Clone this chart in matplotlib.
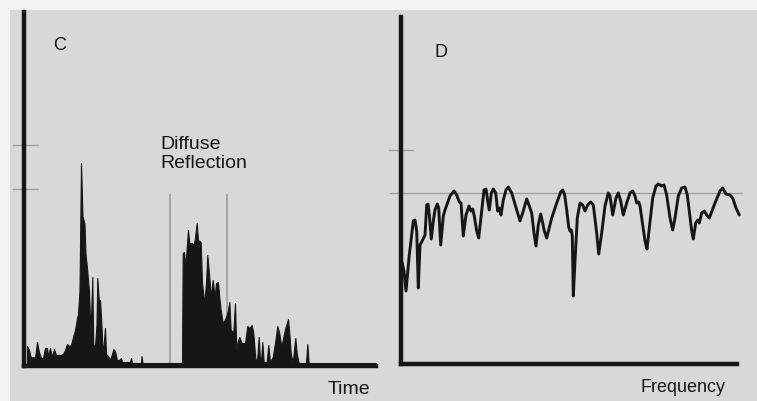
import matplotlib
matplotlib.use("Agg")
import matplotlib.pyplot as plt
from matplotlib.patches import Rectangle

plt.rcParams['font.family'] = ['Liberation Sans', 'DejaVu Sans']

W, H = 757, 401

# panel C: reflected energy vs time
time_c = [3, 5, 7, 9, 11, 13, 15, 17, 19, 21, 23, 24, 26, 28, 30, 32, 34, 37, 39,
          41, 43, 45, 47, 49, 51, 53, 54, 55.5, 57, 58.5, 60.5, 61.5, 63, 65, 66.5,
          67.5, 68.3, 69.2, 71, 72.5, 73.3, 75, 76, 77.5, 78.5, 79.5, 81, 82, 84, 86,
          88, 89.3, 91, 93, 95, 97, 98, 106, 107, 108, 117, 117.5, 118.5,
          158, 158.7, 160, 161.3, 164, 165.3, 167.7, 169.3, 170.7, 172.7, 174, 176.7,
          178, 180.3, 182, 183.3, 185.3, 186.7, 188.7, 190.7, 192, 194, 195.3, 196.7,
          198.7, 200.7, 202.7, 204, 205.3, 206.7, 209.3, 211, 212.3, 214, 215.3, 217.7,
          221, 223.3, 225.3, 227.7, 229.3, 231.7, 233.3, 234.7, 236, 237.3, 238.3,
          239.7, 242.7, 244.3, 246, 248.7, 251, 253.3, 255.3, 257.3, 259.3, 261.3,
          264, 265.3, 266.7, 268.7, 270, 271.3, 272.7, 274.7, 282, 283.3, 284.7, 352]
level_c = [20, 16, 8, 9, 8, 24, 14, 8, 8, 18, 18, 10, 18, 9, 17, 11, 11, 11, 12,
           16, 22, 20, 21, 29, 36, 48, 52, 76, 203, 150, 142, 112, 98, 75, 34,
           62, 89, 22, 20, 42, 88, 62, 66, 40, 15, 20, 38, 12, 10, 6, 12, 17, 15, 6,
           6, 8, 4, 4, 8, 3, 3, 10, 3,
           3, 113, 114, 99, 136, 123, 123, 121, 126, 143, 126, 124, 83, 63, 83, 111,
           89, 69, 86, 69, 83, 84, 69, 56, 43, 46, 51, 56, 64, 36, 34, 63, 16, 26,
           29, 23, 23, 40, 38, 41, 33, 3, 9, 29, 6, 9, 24, 4, 4, 21, 4, 9, 23, 40,
           33, 19, 29, 38, 47, 33, 13, 3, 16, 28, 13, 3, 3, 22, 3, 3]

# panel D: spectrum vs frequency
freq_d = [1, 3, 5, 8.3, 12.3, 14, 15.7, 17.3, 19, 21.7, 24, 25.7, 27, 28.3, 30.3,
          32.3, 34, 36.3, 37.7, 39.7, 42.3, 44, 49, 53, 55.7, 58.3, 60, 62.3, 65,
          68, 70, 71.7, 73.3, 75.7, 77.7, 80.7, 83, 85, 86.7, 88.3, 90.3, 92.3,
          94.7, 96.7, 98.3, 100, 102.3, 105, 107.3, 110.7, 115.7, 119, 122.3, 125.7,
          128.3, 130.7, 133, 135, 137.3, 139.7, 141.7, 143.3, 145.7, 150.7, 155.7,
          159.7, 161.7, 163.7, 165.7, 167.7, 169, 170.3, 171.3, 172.3, 174, 176.3,
          179, 181.7, 184, 186.7, 189.7, 192.3, 195.7, 197.7, 200.7, 204, 207.3,
          209, 211.7, 215, 217.3, 219.7, 222.3, 225.7, 229, 231.7, 234, 235.7,
          237.7, 239, 241.7, 244, 246, 248.3, 251.7, 255, 257.3, 260.7, 263, 265.7,
          269, 271.7, 274, 277.3, 280.7, 284, 286.3, 288.3, 290.7, 292.3, 294.7,
          296.7, 298.3, 300.7, 303.3, 305.7, 308.3, 314, 319, 321.7, 325, 329,
          331.7, 335, 338.3]
level_d = [102, 93, 73, 109, 143, 144, 133, 76, 119, 124, 129, 159, 160, 149, 125,
           143, 154, 160, 156, 119, 148, 154, 168, 173, 169, 162, 161, 128, 149,
           158, 153, 155, 148, 133, 126, 153, 174, 175, 163, 154, 171, 175,
           171, 153, 156, 149, 164, 174, 177, 171, 154, 143, 153, 165,
           158, 151, 131, 118, 139, 150, 141, 133, 126, 146, 161,
           172, 174, 169, 154, 137, 133, 134, 128, 68, 103, 146,
           161, 159, 153, 159, 162, 159, 131, 110, 131, 158, 171,
           168, 149, 166, 171, 163, 149, 161, 171, 173, 168, 161,
           162, 158, 139, 123, 115, 136, 166, 178, 180, 178, 179, 169,
           146, 134, 146, 168, 176, 177, 169, 153, 133, 125, 141,
           144, 141, 151, 153, 149, 146, 161, 173, 176, 170, 169,
           166, 156, 149]

diffuse_marks = [146, 203]
ticks_c = [221, 177]
tick_d = 214
ref_d = 171

ink = '#161616'
page = '#d8d8d6'
faint = '#a0a0a0'


def px_axes(fig, x0, y0, x1, y1):
    return fig.add_axes([x0 / W, 1 - y1 / H, (x1 - x0) / W, (y1 - y0) / H])


fig = plt.figure(figsize=(W / 100, H / 100), dpi=100, facecolor='#f3f3f3')
fig.patches.append(Rectangle((10 / W, 0), 1, (H - 10) / H, transform=fig.transFigure,
                             facecolor=page, edgecolor='none', zorder=-5))

# ---- C ----
ax = px_axes(fig, 24, 12, 376, 366)
ax.set_xlim(0, 352)
ax.set_ylim(0, 354)
ax.set_facecolor('none')
for x in diffuse_marks:
    ax.plot([x, x], [0, 171], color=faint, lw=1.3, zorder=1)
ax.fill_between(time_c, 0, level_c, color=ink, lw=0.8, edgecolor=ink, zorder=2)
for y in ticks_c:
    ax.plot([-11, 14], [y, y], color=faint, lw=1, clip_on=False)
ax.text(36, 321, 'C', fontsize=13, ha='center', va='center', color=ink)
ax.text(136, 212, 'Diffuse\nReflection', fontsize=14, ha='left', va='center',
        color=ink, linespacing=1.2)
ax.text(325, -23, 'Time', fontsize=14, ha='center', va='center', color=ink, clip_on=False)

# ---- D ----
ax2 = px_axes(fig, 401, 17, 737, 364)
ax2.set_xlim(0, 336)
ax2.set_ylim(0, 347)
ax2.set_facecolor('none')
ax2.plot([-11, 341], [ref_d, ref_d], color=faint, lw=1, clip_on=False, zorder=1)
ax2.plot([-12, 12], [tick_d, tick_d], color=faint, lw=1, clip_on=False)
ax2.plot(freq_d, level_d, color=ink, lw=2.1, solid_joinstyle='round',
         solid_capstyle='round', zorder=3, clip_on=False)
ax2.text(40, 312, 'D', fontsize=13, ha='center', va='center', color=ink)
ax2.text(282, -24, 'Frequency', fontsize=13, ha='center', va='center', color=ink,
         clip_on=False)

for a in (ax, ax2):
    a.spines['top'].set_visible(False)
    a.spines['right'].set_visible(False)
    for s in ('left', 'bottom'):
        a.spines[s].set_linewidth(3.2)
        a.spines[s].set_color(ink)
        a.spines[s].set_capstyle('projecting')
    a.set_xticks([])
    a.set_yticks([])

fig.savefig('out.png', dpi=100, facecolor=fig.get_facecolor())
